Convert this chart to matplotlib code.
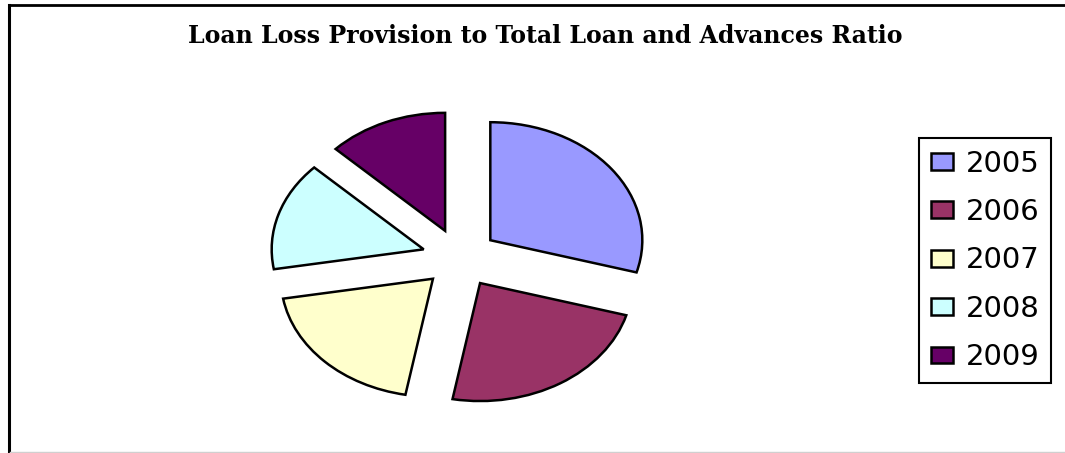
import matplotlib
matplotlib.use("Agg")
import matplotlib.pyplot as plt
from matplotlib.lines import Line2D

# Loan loss provision to total loan and advances, share by year
years = ["2005", "2006", "2007", "2008", "2009"]
ratio_share = [29.4, 23.5, 19.4, 14.9, 12.8]
colors = ["#9999FF", "#993366", "#FFFFCC", "#CCFFFF", "#660066"]
title = "Loan Loss Provision to Total Loan and Advances Ratio"

W, H = 1065, 453
fig = plt.figure(figsize=(W / 100, H / 100), dpi=100)
fig.patch.set_facecolor("white")

# pie drawn in a non-square axes so it comes out as an ellipse
cx, cy = 460, 258      # pie centre, pixels from top-left
rx, ry = 152, 118      # radius in pixels along x and y
span = 1.5
ax = fig.add_axes([(cx - span * rx) / W, (H - cy - span * ry) / H,
                   2 * span * rx / W, 2 * span * ry / H])
wedges, _ = ax.pie(ratio_share, colors=colors, startangle=90, counterclock=False,
                   explode=[0.25] * len(years),
                   wedgeprops=dict(edgecolor="black", linewidth=1.8))
ax.set_aspect("auto")
ax.set_xlim(-span, span)
ax.set_ylim(-span, span)
ax.axis("off")

fig.text(545 / W, 1 - 43 / H, title, ha="center", va="baseline",
         fontsize=17, fontweight="bold", family="DejaVu Serif")

leg = fig.legend(wedges, years, loc="upper left",
                 bbox_to_anchor=(919 / W, 1 - 138 / H), bbox_transform=fig.transFigure,
                 prop=dict(family="DejaVu Sans", size=21),
                 frameon=True, fancybox=False, framealpha=1, edgecolor="black",
                 borderpad=0.4, borderaxespad=0, handlelength=0.75, handleheight=0.51,
                 handletextpad=0.45, labelspacing=0.70)
leg.get_frame().set_linewidth(1.5)

# outer chart border
fig.add_artist(Line2D([9 / W, 9 / W], [0, 1 - 5 / H], color="black", lw=2.2,
                      transform=fig.transFigure, solid_capstyle="projecting"))
fig.add_artist(Line2D([9 / W, 1], [1 - 5 / H, 1 - 5 / H], color="black", lw=2.0,
                      transform=fig.transFigure))
fig.add_artist(Line2D([10 / W, 1], [1 - 452 / H, 1 - 452 / H], color="#d0d0d0", lw=1.0,
                      transform=fig.transFigure))

fig.savefig("out.png", dpi=100)
